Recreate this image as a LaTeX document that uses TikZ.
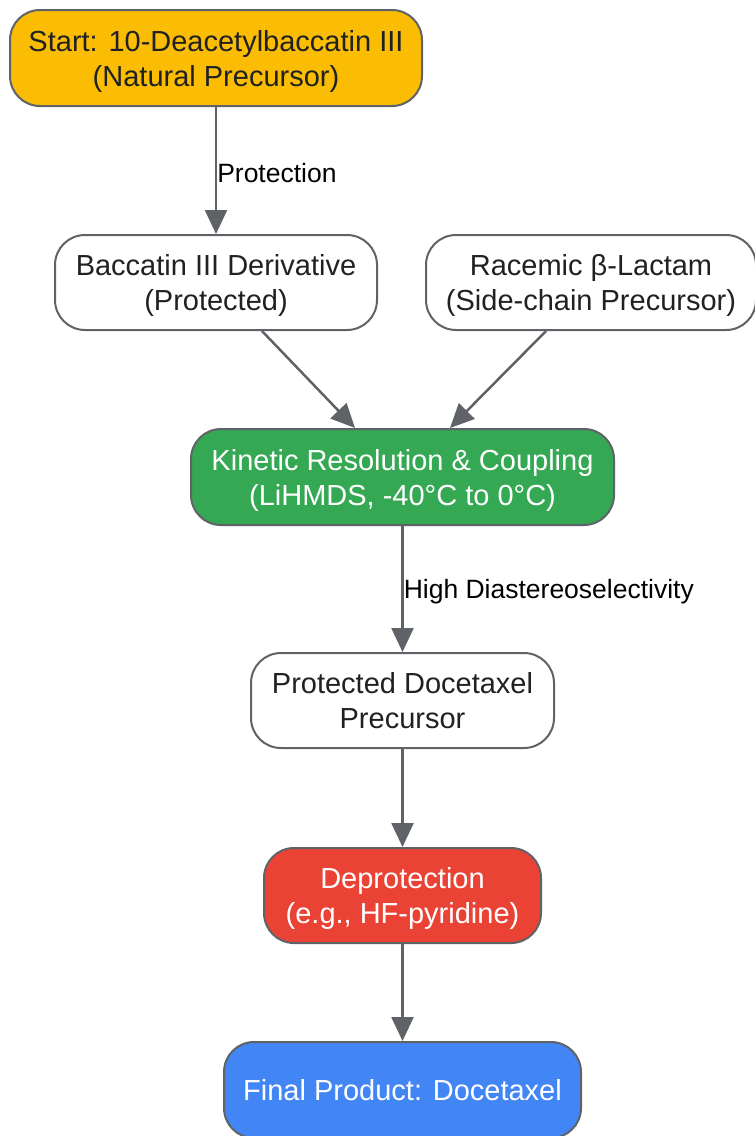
\documentclass[tikz,border=0pt]{standalone}
\usepackage{fontspec}
\setmainfont{Liberation Sans}
\usetikzlibrary{arrows.meta,calc}
\definecolor{edgegray}{HTML}{5F6368}
\definecolor{txt}{HTML}{202124}
\definecolor{gyellow}{HTML}{FBBC04}
\definecolor{ggreen}{HTML}{34A853}
\definecolor{gred}{HTML}{EA4335}
\definecolor{gblue}{HTML}{4285F4}
\tikzset{
  box/.style={draw=edgegray, line width=2pt, rounded corners=30pt, align=center,
    inner sep=0pt, text=txt, font=\fontsize{29}{35}\selectfont, fill=white, text depth=0pt},
  arr/.style={draw=edgegray, line width=2.5pt, -{Triangle[length=24pt,width=22pt]}},
  elabel/.style={anchor=west, inner sep=0pt, yshift=-2.5pt, text=black, font=\fontsize{26.5}{32}\selectfont},
}
\begin{document}
\begin{tikzpicture}[x=1pt,y=-1pt]
\useasboundingbox (0,0) rectangle (755,1136);
\node[box, fill=gyellow, minimum width=412pt, minimum height=96pt] (start) at (216,58)
  {Start: 10-Deacetylbaccatin III\\(Natural Precursor)};
\node[box, minimum width=322pt, minimum height=95pt] (bac) at (216,282.5)
  {Baccatin III Derivative\\(Protected)};
\node[box, minimum width=330pt, minimum height=95pt] (rac) at (591,282.5)
  {Racemic β-Lactam\\(Side-chain Precursor)};
\node[box, fill=ggreen, text=white, minimum width=423pt, minimum height=96pt] (kin) at (402.5,477)
  {Kinetic Resolution \& Coupling\\(LiHMDS, -40°C to 0°C)};
\node[box, minimum width=303pt, minimum height=95pt] (prot) at (402.5,700.5)
  {Protected Docetaxel\\Precursor};
\node[box, fill=gred, text=white, minimum width=277pt, minimum height=95pt] (dep) at (402.5,895.5)
  {Deprotection\\(e.g., HF-pyridine)};
\node[box, fill=gblue, text=white, minimum width=357pt, minimum height=96pt] (fin) at (402.5,1090)
  {Final Product: Docetaxel};
\draw[arr] (start.south) -- node[elabel]{Protection} (bac.north);
\draw[arr] ($(bac.south)+(46,0)$) -- ($(kin.north)+(-47.5,0)$);
\draw[arr] ($(rac.south)+(-45,0)$) -- ($(kin.north)+(47.5,0)$);
\draw[arr] (kin.south) -- node[elabel]{High Diastereoselectivity} (prot.north);
\draw[arr] (prot.south) -- (dep.north);
\draw[arr] (dep.south) -- (fin.north);
\end{tikzpicture}
\end{document}
